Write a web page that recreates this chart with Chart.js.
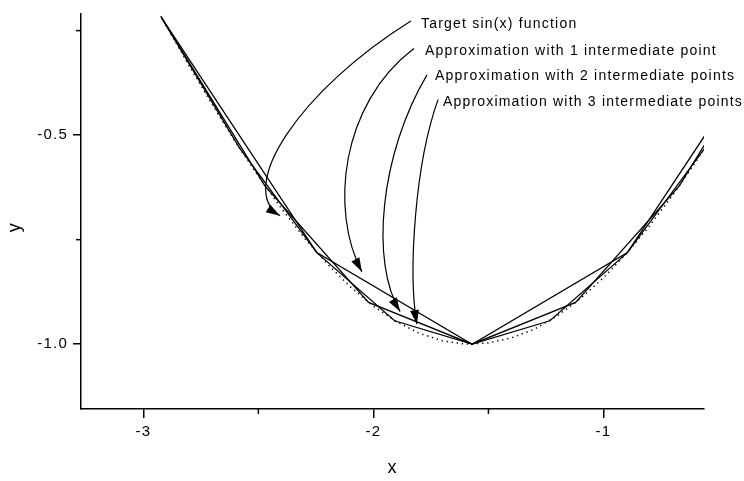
<!DOCTYPE html>
<html>
<head>
<meta charset="utf-8">
<script src="https://cdn.jsdelivr.net/npm/chart.js@4.4.1/dist/chart.umd.min.js"></script>
<style>
  html, body { margin: 0; padding: 0; background: #fff; }
</style>
</head>
<body>
<canvas id="sinChart" width="744" height="481"></canvas>
<script>
// target sin(x)
const targetX = [-3.0, -2.9, -2.8, -2.7, -2.6, -2.5, -2.4, -2.3, -2.2, -2.1, -2.0, -1.9, -1.8, -1.7, -1.6,
                 -1.5, -1.4, -1.3, -1.2, -1.1, -1.0, -0.9, -0.8, -0.7, -0.6, -0.5];
const targetY = [-0.141, -0.239, -0.335, -0.427, -0.516, -0.598, -0.675, -0.746, -0.808, -0.863, -0.909, -0.946, -0.974, -0.992, -1.000,
                 -0.997, -0.985, -0.964, -0.932, -0.891, -0.841, -0.783, -0.717, -0.644, -0.565, -0.479];

// piecewise linear approximations (nodes)
const approx1X = [-2.921, -2.246, -1.571, -0.896, -0.221];
const approx1Y = [-0.219, -0.781, -1.000, -0.781, -0.219];
const approx2X = [-2.921, -2.471, -2.021, -1.571, -1.121, -0.671, -0.221];
const approx2Y = [-0.219, -0.622, -0.900, -1.000, -0.900, -0.622, -0.219];
const approx3X = [-2.921, -2.583, -2.246, -1.908, -1.571, -1.233, -0.896, -0.558, -0.221];
const approx3Y = [-0.219, -0.530, -0.781, -0.944, -1.000, -0.944, -0.781, -0.530, -0.219];

const xTicks = [-3, -2, -1];
const xMinorTicks = [-2.5, -1.5];
const yTicks = [-1.0, -0.5];
const yMinorTicks = [-0.75, -0.25];

const noteLabels = [
    "Target sin(x) function",
    "Approximation with 1 intermediate point",
    "Approximation with 2 intermediate points",
    "Approximation with 3 intermediate points",
];
const noteX = [-1.793, -1.776, -1.732, -1.698];
const noteY = [-0.234, -0.300, -0.359, -0.420];

// arrows as cubic curves: start, control 1, control 2, tip (data units)
const arrowX = [
    [-1.837, -2.319, -2.601, -2.406],
    [-1.824, -2.145, -2.189, -2.050],
    [-1.767, -1.971, -2.015, -1.884],
    [-1.719, -1.819, -1.850, -1.811],
];
const arrowY = [
    [-0.227, -0.392, -0.627, -0.693],
    [-0.293, -0.427, -0.682, -0.827],
    [-0.356, -0.545, -0.804, -0.922],
    [-0.415, -0.568, -0.827, -0.952],
];

const FONT = "'Liberation Sans', Arial, sans-serif";
const SPACING = "1.2px";

function pts(xs, ys) {
    return xs.map((x, i) => ({ x: x, y: ys[i] }));
}

function lineSet(xs, ys, extra) {
    return Object.assign({
        data: pts(xs, ys),
        borderColor: "#000",
        borderWidth: 1.3,
        pointRadius: 0,
        tension: 0,
        fill: false,
    }, extra || {});
}

const spacingPlugin = {
    id: "spacing",
    beforeLayout(chart) { chart.ctx.letterSpacing = SPACING; },
    beforeDraw(chart) { chart.ctx.letterSpacing = SPACING; },
};

const notesPlugin = {
    id: "notes",
    afterDraw(chart) {
        const ctx = chart.ctx;
        const xs = chart.scales.x, ys = chart.scales.y;
        const area = chart.chartArea;
        ctx.save();
        ctx.letterSpacing = SPACING;

        // minor ticks
        ctx.strokeStyle = "#000";
        ctx.lineWidth = 1.5;
        xMinorTicks.forEach(v => {
            const px = xs.getPixelForValue(v);
            ctx.beginPath();
            ctx.moveTo(px, area.bottom);
            ctx.lineTo(px, area.bottom + 5);
            ctx.stroke();
        });
        yMinorTicks.forEach(v => {
            const py = ys.getPixelForValue(v);
            ctx.beginPath();
            ctx.moveTo(area.left, py);
            ctx.lineTo(area.left - 5, py);
            ctx.stroke();
        });

        // arrows
        ctx.lineWidth = 1.2;
        ctx.fillStyle = "#000";
        arrowX.forEach((ax, i) => {
            const p = ax.map((x, j) => [xs.getPixelForValue(x), ys.getPixelForValue(arrowY[i][j])]);
            ctx.beginPath();
            ctx.moveTo(p[0][0], p[0][1]);
            ctx.bezierCurveTo(p[1][0], p[1][1], p[2][0], p[2][1], p[3][0], p[3][1]);
            ctx.stroke();

            const ang = Math.atan2(p[3][1] - p[2][1], p[3][0] - p[2][0]);
            const len = 14, half = 4.5;
            const tx = p[3][0], ty = p[3][1];
            ctx.beginPath();
            ctx.moveTo(tx, ty);
            ctx.lineTo(tx - len * Math.cos(ang) + half * Math.sin(ang),
                       ty - len * Math.sin(ang) - half * Math.cos(ang));
            ctx.lineTo(tx - len * Math.cos(ang) - half * Math.sin(ang),
                       ty - len * Math.sin(ang) + half * Math.cos(ang));
            ctx.closePath();
            ctx.fill();
        });

        // note texts
        ctx.font = "14px " + FONT;
        ctx.textBaseline = "middle";
        ctx.textAlign = "left";
        noteLabels.forEach((t, i) => {
            ctx.fillText(t, xs.getPixelForValue(noteX[i]), ys.getPixelForValue(noteY[i]));
        });

        // y axis title, sits a bit below the middle like the original
        ctx.font = "18px " + FONT;
        ctx.textAlign = "center";
        ctx.translate(15, ys.getPixelForValue(-0.72));
        ctx.rotate(-Math.PI / 2);
        ctx.fillText("y", 0, 0);
        ctx.restore();
    },
};

new Chart(document.getElementById("sinChart"), {
    type: "line",
    data: {
        datasets: [
            lineSet(targetX, targetY, { borderDash: [1.3, 3.8], borderWidth: 1.5 }),
            lineSet(approx1X, approx1Y),
            lineSet(approx2X, approx2Y),
            lineSet(approx3X, approx3Y),
        ],
    },
    options: {
        responsive: false,
        animation: false,
        devicePixelRatio: 1,
        layout: { padding: { top: 8, right: 40, left: 0, bottom: 0 } },
        plugins: {
            legend: { display: false },
            tooltip: { enabled: false },
        },
        scales: {
            x: {
                type: "linear",
                min: -3.271,
                max: -0.563,
                afterBuildTicks: (s) => { s.ticks = xTicks.map(v => ({ value: v })); },
                afterFit: (s) => { s.height = 72; },
                grid: { drawOnChartArea: false, color: "#000", lineWidth: 1.5, tickLength: 9 },
                border: { color: "#000", width: 1.5 },
                ticks: {
                    color: "#000",
                    padding: 5,
                    maxRotation: 0,
                    font: { family: FONT, size: 15 },
                    callback: (v) => String(v),
                },
                title: {
                    display: true,
                    text: "x",
                    color: "#000",
                    font: { family: FONT, size: 18 },
                    padding: { top: 0, bottom: 2 },
                },
            },
            y: {
                type: "linear",
                min: -1.155,
                max: -0.2103,
                afterBuildTicks: (s) => { s.ticks = yTicks.map(v => ({ value: v })); },
                afterFit: (s) => { s.width = 81; },
                grid: { drawOnChartArea: false, color: "#000", lineWidth: 1.5, tickLength: 8 },
                border: { color: "#000", width: 1.5 },
                ticks: {
                    color: "#000",
                    padding: 5,
                    font: { family: FONT, size: 15 },
                    callback: (v) => v.toFixed(1),
                },
                title: { display: false },
            },
        },
    },
    plugins: [spacingPlugin, notesPlugin],
});
</script>
</body>
</html>
